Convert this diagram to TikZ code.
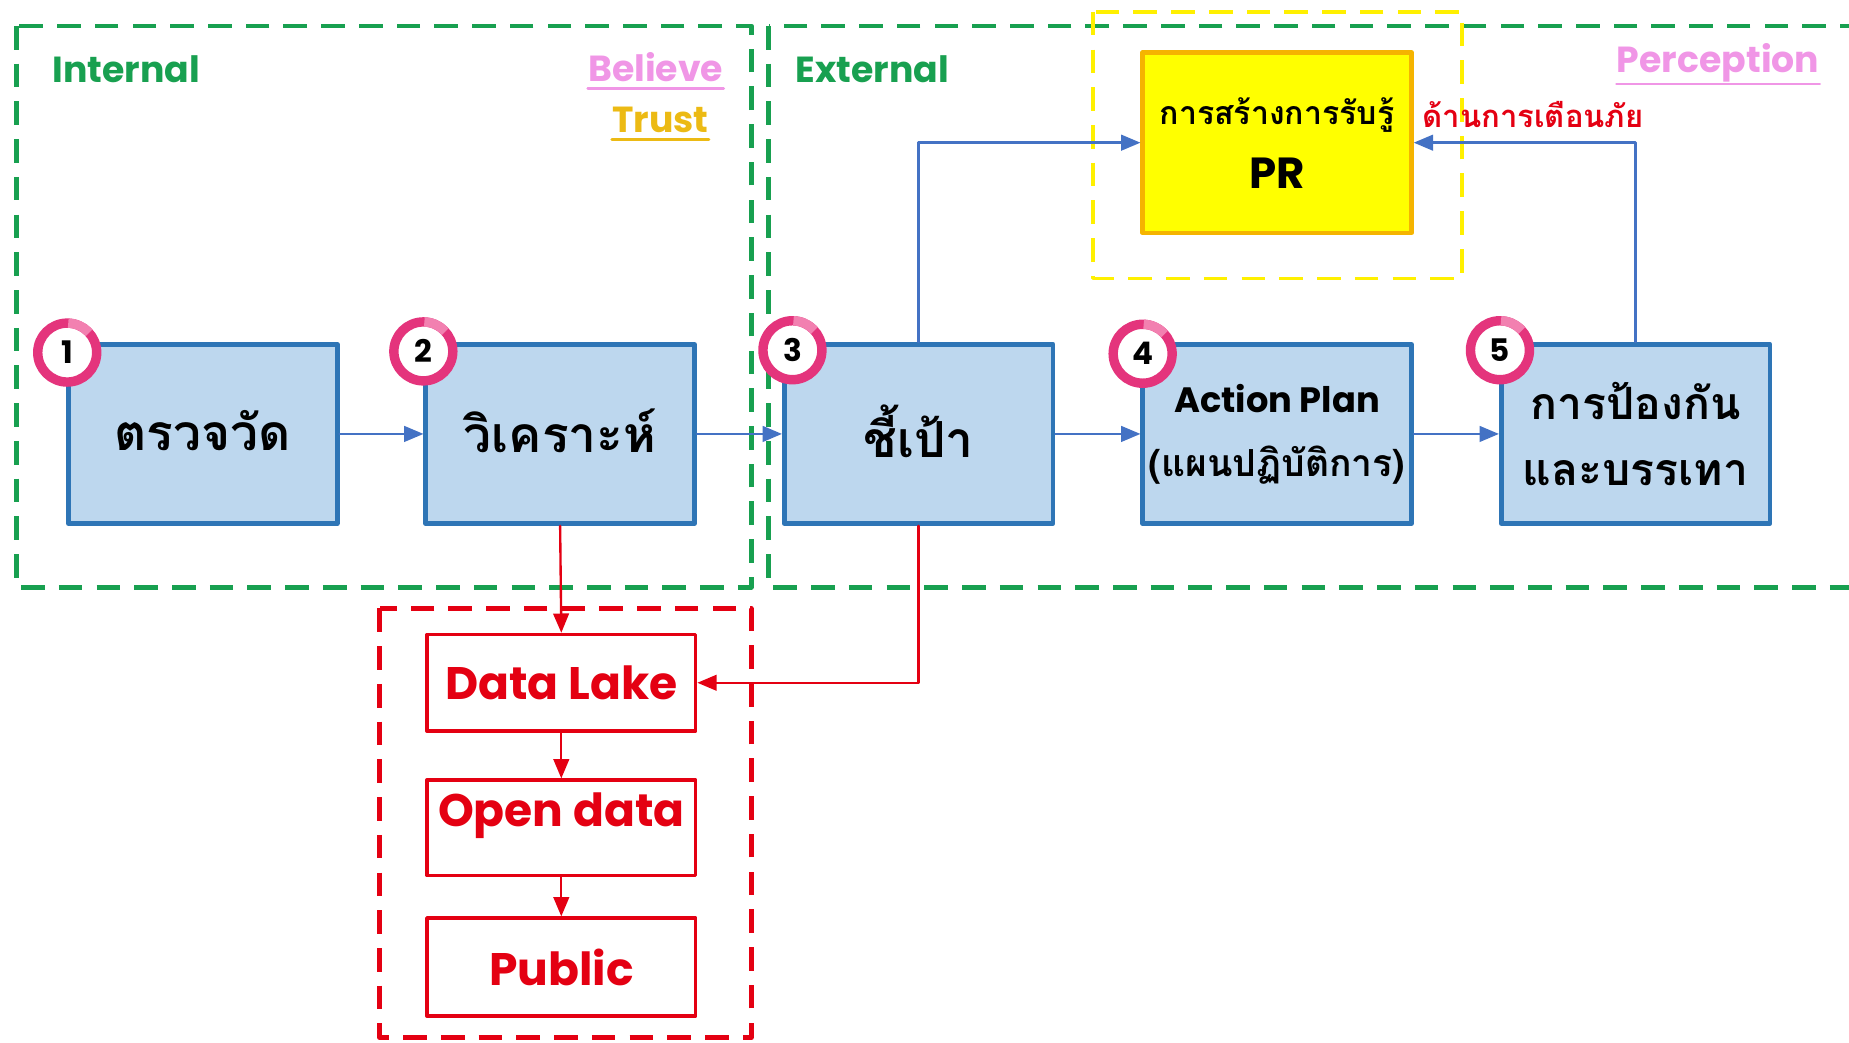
\documentclass[tikz,border=0pt]{standalone}
\usepackage{fontspec}
\setmainfont{Poppins}
\newfontfamily\thaifont[Script=Thai]{Loma}
\usetikzlibrary{arrows}
\definecolor{boxblue}{RGB}{189,215,238}
\definecolor{edgeblue}{RGB}{46,117,182}
\definecolor{linkblue}{RGB}{68,114,196}
\definecolor{frgreen}{RGB}{24,160,80}
\definecolor{dred}{RGB}{228,0,18}
\definecolor{pinktxt}{RGB}{240,150,230}
\definecolor{goldtxt}{RGB}{236,186,20}
\definecolor{ringpink}{RGB}{228,52,124}
\definecolor{ringlight}{RGB}{242,128,176}
\definecolor{pryellow}{RGB}{255,255,0}
\definecolor{prborder}{RGB}{245,180,0}
\definecolor{dashyellow}{RGB}{255,240,0}

\begin{document}
\begin{tikzpicture}[line cap=round,line join=round,>=triangle 45,x=0.02cm,y=-0.02cm,
  stepbox/.style={draw=edgeblue,fill=boxblue,line width=0.08cm,minimum width=4.56cm,minimum height=3.04cm,inner sep=0pt,align=center,font=\thaifont\bfseries\fontsize{24}{31}\selectfont},
  prbox/.style={draw=prborder,fill=pryellow,line width=0.08cm,minimum width=4.56cm,minimum height=3.06cm,inner sep=0pt,align=center},
  databox/.style={draw=dred,fill=white,line width=0.06cm,minimum width=4.56cm,inner sep=0pt,text=dred,font=\bfseries\fontsize{22}{26}\selectfont},
  numring/.style={circle,draw=ringpink,fill=white,line width=0.16cm,minimum size=1.0cm,inner sep=0pt,font=\bfseries\fontsize{15}{15}\selectfont},
  flow/.style={->,draw=linkblue,line width=0.04cm},
  redflow/.style={->,draw=dred,line width=0.04cm},
  frame/.style={dash pattern=on 0.4cm off 0.24cm,line width=0.08cm,line cap=butt},
  tag/.style={inner sep=0pt,font=\bfseries\fontsize{17.5}{17.5}\selectfont}]
\useasboundingbox (0,0) rectangle (1568,884);
\clip (0,0) rectangle (1568,884);

% frames
\draw[frame,frgreen] (14,22) rectangle (637,498);
\draw[frame,frgreen] (652,22) rectangle (1600,498);
\draw[frame,dashyellow,line width=0.06cm] (927,10) rectangle (1240,236);
\draw[frame,dred] (322,516) rectangle (637,880);

\node[tag,text=frgreen] (intl) at (107,59) {Internal};
\node[tag,text=frgreen] (extl) at (740,59) {External};
\node[tag,text=pinktxt] (blv) at (556,57) {Believe};
\node[tag,text=goldtxt] (trst) at (560,102) {Trust};
\node[tag,text=pinktxt] (perc) at (1457,53) {Perception};
\draw[pinktxt,line width=0.05cm] ([yshift=-0.12cm]blv.base west) -- ([yshift=-0.12cm]blv.base east);
\draw[goldtxt,line width=0.05cm] ([yshift=-0.12cm]trst.base west) -- ([yshift=-0.12cm]trst.base east);
\draw[pinktxt,line width=0.05cm] ([yshift=-0.2cm]perc.base west) -- ([yshift=-0.2cm]perc.base east);

% steps
\node[stepbox] (b1) at (172,368) {\raisebox{0.12cm}{ตรวจวัด}};
\node[stepbox] (b2) at (475,368) {\raisebox{0.12cm}{วิเคราะห์}};
\node[stepbox] (b3) at (779,368) {\raisebox{0.1cm}{ชี้เป้า}};
\node[stepbox] (b4) at (1083,368) {{\fontspec{Poppins}\fontsize{17}{27}\selectfont Action Plan}\\{\fontsize{18}{27}\selectfont(แผนปฏิบัติการ)}};
\node[stepbox,font=\thaifont\bfseries\fontsize{21.5}{32}\selectfont] (b5) at (1387,368) {การป้องกัน\\และบรรเทา};
\node[prbox] (pr) at (1083,121) {{\thaifont\bfseries\fontsize{15.5}{28}\selectfont การสร้างการรับรู้}\\[0.4cm]{\bfseries\fontsize{21}{28}\selectfont PR}};
\node[text=dred,font=\thaifont\bfseries\fontsize{15}{15}\selectfont] (warn) at (1300,97) {ด้านการเตือนภัย};

\foreach \n/\x/\y in {1/57/299,2/359/298,3/672/297,4/969/300,5/1272/297}{
  \node[numring] (c\n) at (\x,\y) {\n};
  \draw[ringlight,line width=0.16cm,line cap=butt] (c\n.center) ++(88:0.5cm) arc[start angle=88,end angle=42,radius=0.5cm];
}

% data
\node[databox,minimum height=1.64cm] (dl) at (476,579) {Data Lake};
\node[databox,minimum height=1.62cm,text depth=0.62cm] (od) at (476,702) {Open data};
\node[databox,minimum height=1.66cm] (pub) at (476,820) {Public};

\draw[flow] (b1) -- (b2);
\draw[flow] (b2) -- (b3);
\draw[flow] (b3) -- (b4);
\draw[flow] (b4) -- (b5);
\draw[flow] (b3.north) |- (pr.west);
\draw[flow] (b5.north) |- (pr.east);
\draw[redflow] (b2.south) -- (dl.north);
\draw[redflow] (b3.south) |- (dl.east);
\draw[redflow] (dl) -- (od);
\draw[redflow] (od) -- (pub);
\end{tikzpicture}
\end{document}
